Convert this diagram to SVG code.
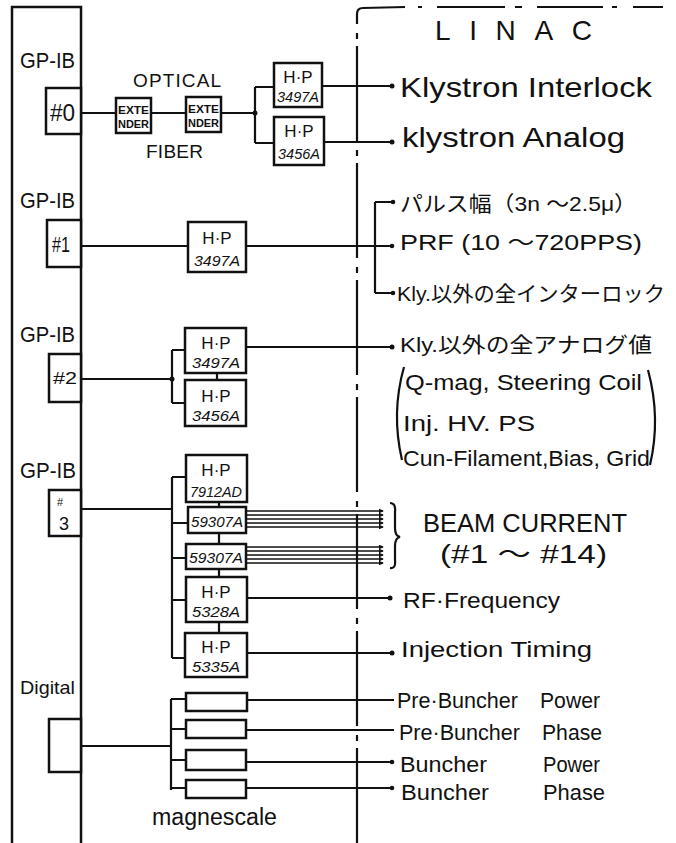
<svg xmlns="http://www.w3.org/2000/svg" width="676" height="843" viewBox="0 0 676 843">
<style>
text{font-family:"Liberation Sans","Noto Sans CJK JP",sans-serif;fill:#111}
.box{fill:#fff;stroke:#111;stroke-width:2.5}
.ln{fill:none;stroke:#111;stroke-width:2.2}
.dot{fill:#111}
.hp{font-size:17px;text-anchor:middle}
.mdl{font-size:14px;text-anchor:middle;font-style:italic}
.gp{font-size:22px}
.ext{font-size:11px;font-weight:bold;text-anchor:middle}
</style>
<defs>
<marker id="ar" viewBox="0 0 6 6" refX="5" refY="3" markerWidth="3" markerHeight="3" orient="auto"><path d="M0,0 L6,3 L0,6 z" fill="#111"/></marker>
</defs>
<rect width="676" height="843" fill="#fff"/>

<g id="frame">
<rect x="12" y="7" width="69" height="850" fill="none" stroke="#111" stroke-width="2.5"/>
<path class="ln" d="M357,843 L357,14 Q357,8 363,8" stroke-dasharray="95 7 6 9"/>
<path class="ln" d="M363,8 L405,7 M418,7 L422,7 M437,7 L505,7 M515,7 L522,7 M537,7 L603,7 M612,7 L617,7 M633,7 L663,7"/>
<text x="435" y="40" font-size="28" textLength="157" lengthAdjust="spacing">LINAC</text>
</g>

<g id="gpib0">
<text class="gp" x="20" y="68" textLength="55" lengthAdjust="spacingAndGlyphs">GP-IB</text>
<rect class="box" x="46" y="88" width="35" height="46"/>
<text x="50" y="121" font-size="24" textLength="25" lengthAdjust="spacingAndGlyphs">#0</text>
</g>
<g id="extender1">
<rect class="box" x="116" y="98" width="35" height="35"/>
<text class="ext" x="133.5" y="114" textLength="31" lengthAdjust="spacingAndGlyphs">EXTE</text>
<text class="ext" x="133.5" y="128" textLength="31" lengthAdjust="spacingAndGlyphs">NDER</text>
</g>
<g id="extender2">
<rect class="box" x="186" y="97" width="35" height="35"/>
<text class="ext" x="203.5" y="113" textLength="31" lengthAdjust="spacingAndGlyphs">EXTE</text>
<text class="ext" x="203.5" y="127" textLength="31" lengthAdjust="spacingAndGlyphs">NDER</text>
</g>
<g id="fiber-label">
<text x="133" y="87" font-size="19" textLength="88" lengthAdjust="spacing">OPTICAL</text>
<text x="146" y="158" font-size="19" textLength="57" lengthAdjust="spacing">FIBER</text>
</g>
<g id="hp0a">
<rect class="box" x="274" y="63" width="48" height="44"/>
<text class="hp" x="298" y="83">H·P</text>
<text class="mdl" x="298" y="102" textLength="42" lengthAdjust="spacingAndGlyphs">3497A</text>
</g>
<g id="hp0b">
<rect class="box" x="274" y="117" width="50" height="48"/>
<text class="hp" x="299" y="137">H·P</text>
<text class="mdl" x="299" y="159" textLength="42" lengthAdjust="spacingAndGlyphs">3456A</text>
</g>
<g id="out0">
<text x="400" y="97" font-size="28" textLength="252" lengthAdjust="spacingAndGlyphs">Klystron Interlock</text>
<text x="402" y="147" font-size="28" textLength="223" lengthAdjust="spacingAndGlyphs">klystron Analog</text>
</g>

<g id="gpib1">
<text class="gp" x="20" y="208" textLength="55" lengthAdjust="spacingAndGlyphs">GP-IB</text>
<rect class="box" x="47" y="220" width="34" height="47"/>
<text x="52" y="252" font-size="22" textLength="18" lengthAdjust="spacingAndGlyphs">#1</text>
</g>
<g id="hp1">
<rect class="box" x="188" y="222" width="58" height="50"/>
<text class="hp" x="217" y="244">H·P</text>
<text class="mdl" x="217" y="266" textLength="46" lengthAdjust="spacingAndGlyphs">3497A</text>
</g>
<g id="out1">
<text x="400" y="211" font-size="21" textLength="237" lengthAdjust="spacingAndGlyphs">パルス幅（3n ～2.5μ）</text>
<text x="400" y="250" font-size="22" textLength="242" lengthAdjust="spacingAndGlyphs">PRF (10 ～720PPS)</text>
<text x="397" y="301" font-size="21" textLength="268" lengthAdjust="spacingAndGlyphs">Kly.以外の全インターロック</text>
</g>

<g id="gpib2">
<text class="gp" x="20" y="342" textLength="55" lengthAdjust="spacingAndGlyphs">GP-IB</text>
<rect class="box" x="49" y="354" width="32" height="48"/>
<text x="53" y="384" font-size="17" textLength="24" lengthAdjust="spacingAndGlyphs">#2</text>
</g>
<g id="hp2a">
<rect class="box" x="185" y="328" width="61" height="45"/>
<text class="hp" x="216" y="349">H·P</text>
<text class="mdl" x="216" y="368" textLength="48" lengthAdjust="spacingAndGlyphs">3497A</text>
</g>
<g id="hp2b">
<rect class="box" x="185" y="380" width="61" height="46"/>
<text class="hp" x="216" y="402">H·P</text>
<text class="mdl" x="216" y="421" textLength="48" lengthAdjust="spacingAndGlyphs">3456A</text>
</g>
<g id="out2">
<text x="400" y="352" font-size="21" textLength="252" lengthAdjust="spacingAndGlyphs">Kly.以外の全アナログ値</text>
<path class="ln" d="M404,367 Q391,413 402,460"/>
<path class="ln" d="M648,370 Q661,418 650,465"/>
<text x="405" y="390" font-size="22" textLength="237" lengthAdjust="spacingAndGlyphs">Q-mag, Steering Coil</text>
<text x="403" y="431" font-size="22" textLength="132" lengthAdjust="spacingAndGlyphs">Inj. HV. PS</text>
<text x="403" y="466" font-size="22" textLength="247" lengthAdjust="spacingAndGlyphs">Cun-Filament,Bias, Grid</text>
</g>

<g id="gpib3">
<text class="gp" x="20" y="478" textLength="56" lengthAdjust="spacingAndGlyphs">GP-IB</text>
<rect class="box" x="49" y="490" width="32" height="46"/>
<text x="57" y="506" font-size="11">#</text>
<text x="59" y="530" font-size="18">3</text>
</g>
<g id="hp3a">
<rect class="box" x="186" y="455" width="61" height="47"/>
<text class="hp" x="216" y="476">H·P</text>
<text class="mdl" x="216" y="497" textLength="52" lengthAdjust="spacingAndGlyphs">7912AD</text>
</g>
<g id="sw1">
<rect class="box" x="188" y="507" width="58" height="26"/>
<text class="mdl" x="217" y="527" textLength="52" lengthAdjust="spacingAndGlyphs" font-size="16">59307A</text>
</g>
<g id="sw2">
<rect class="box" x="186" y="544" width="60" height="25"/>
<text class="mdl" x="216" y="563" textLength="54" lengthAdjust="spacingAndGlyphs" font-size="16">59307A</text>
</g>
<g id="hp3d">
<rect class="box" x="186" y="577" width="61" height="45"/>
<text class="hp" x="216" y="598">H·P</text>
<text class="mdl" x="216" y="617" textLength="48" lengthAdjust="spacingAndGlyphs">5328A</text>
</g>
<g id="hp3e">
<rect class="box" x="185" y="633" width="62" height="44"/>
<text class="hp" x="216" y="653">H·P</text>
<text class="mdl" x="216" y="672" textLength="48" lengthAdjust="spacingAndGlyphs">5335A</text>
</g>
<g id="out3">
<path class="ln" d="M390,503 Q396,503 395,512 L395,528 Q395,536 400,537 Q395,538 395,546 L395,560 Q396,569 390,568"/>
<text x="423" y="532" font-size="25" textLength="204" lengthAdjust="spacingAndGlyphs">BEAM CURRENT</text>
<text x="440" y="563" font-size="25" textLength="167" lengthAdjust="spacingAndGlyphs">(#1 ～ #14)</text>
<text x="403" y="608" font-size="22" textLength="157" lengthAdjust="spacingAndGlyphs">RF·Frequency</text>
<text x="401" y="657" font-size="22" textLength="191" lengthAdjust="spacingAndGlyphs">Injection Timing</text>
</g>

<g id="digital">
<text x="20" y="694" font-size="19" textLength="55" lengthAdjust="spacingAndGlyphs">Digital</text>
<rect class="box" x="49" y="719" width="32" height="53"/>
</g>
<g id="magnescale">
<rect class="box" x="186" y="693" width="61" height="18"/>
<rect class="box" x="186" y="720" width="60" height="18"/>
<rect class="box" x="186" y="750" width="60" height="20"/>
<rect class="box" x="186" y="780" width="60" height="18"/>
<text x="152" y="825" font-size="23" textLength="125" lengthAdjust="spacingAndGlyphs">magnescale</text>
</g>
<g id="out4">
<text x="397" y="708" font-size="22" textLength="121" lengthAdjust="spacingAndGlyphs">Pre·Buncher</text>
<text x="540" y="708" font-size="22" textLength="60" lengthAdjust="spacingAndGlyphs">Power</text>
<text x="399" y="740" font-size="22" textLength="121" lengthAdjust="spacingAndGlyphs">Pre·Buncher</text>
<text x="542" y="740" font-size="22" textLength="60" lengthAdjust="spacingAndGlyphs">Phase</text>
<text x="400" y="772" font-size="22" textLength="87" lengthAdjust="spacingAndGlyphs">Buncher</text>
<text x="543" y="772" font-size="22" textLength="57" lengthAdjust="spacingAndGlyphs">Power</text>
<text x="401" y="800" font-size="22" textLength="88" lengthAdjust="spacingAndGlyphs">Buncher</text>
<text x="543" y="800" font-size="22" textLength="62" lengthAdjust="spacingAndGlyphs">Phase</text>
</g>

<g id="connectors">
<path class="ln" d="M81,113 H116 M151,113 H186 M221,113 H255 M255,87 V143 M255,87 H274 M255,143 H274 M322,86 H392 M324,142 H392"/>
<circle class="dot" cx="255" cy="113" r="2.5"/>
<circle class="dot" cx="392" cy="86" r="2.5"/>
<circle class="dot" cx="392" cy="142" r="2.5"/>

<path class="ln" d="M81,246 H188 M246,246 H375 M375,202 V293 M375,202 H393 M375,246 H392 M375,293 H393"/>
<circle class="dot" cx="393" cy="202" r="2.3"/>
<circle class="dot" cx="392" cy="246" r="2.3"/>
<circle class="dot" cx="393" cy="293" r="2.3"/>

<path class="ln" d="M81,379 H172 M172,350 V403 M172,350 H185 M172,403 H185 M217,373 V380 M246,347 H392"/>
<circle class="dot" cx="172" cy="379" r="2.5"/>
<circle class="dot" cx="392" cy="347" r="2.5"/>

<path class="ln" d="M81,509 H172 M172,477 V658 M172,477 H186 M172,523 H188 M172,558 H186 M172,600 H186 M172,658 H185 M219,502 V507 M219,533 V544 M219,569 V577 M219,622 V633 M247,598 H390 M247,653 H392"/>
<circle class="dot" cx="390" cy="598" r="2.5"/>
<circle class="dot" cx="392" cy="653" r="2.5"/>
<g stroke="#111" stroke-width="1.6" marker-end="url(#ar)">
<line x1="246" y1="511" x2="383" y2="511"/>
<line x1="246" y1="515" x2="383" y2="515"/>
<line x1="246" y1="519" x2="383" y2="519"/>
<line x1="246" y1="523" x2="383" y2="523"/>
<line x1="246" y1="527" x2="383" y2="527"/>
<line x1="246" y1="547" x2="383" y2="547"/>
<line x1="246" y1="551" x2="383" y2="551"/>
<line x1="246" y1="555" x2="383" y2="555"/>
<line x1="246" y1="559" x2="383" y2="559"/>
<line x1="246" y1="563" x2="383" y2="563"/>
</g>

<path class="ln" d="M81,746 H171 M171,699 V790 M171,699 H186 M171,729 H186 M171,760 H186 M171,788 H186 M247,700 H394 M246,730 H394 M246,762 H392 M246,788 H392"/>
<circle class="dot" cx="392" cy="762" r="2.3"/>
<circle class="dot" cx="392" cy="788" r="2.3"/>
</g>
</svg>
